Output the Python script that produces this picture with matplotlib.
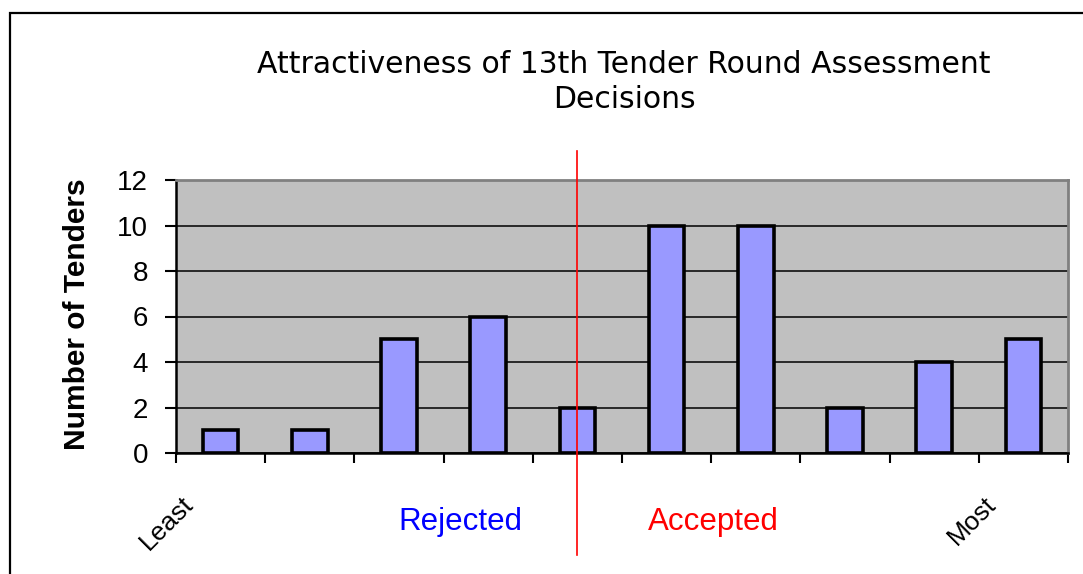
import matplotlib
matplotlib.use("Agg")
import matplotlib.pyplot as plt
from matplotlib.patches import Rectangle
from matplotlib.transforms import ScaledTranslation

# data
categories = list(range(10))
counts = [1, 1, 5, 6, 2, 10, 10, 2, 4, 5]
x_labels = ["Least", "", "", "", "", "", "", "", "", "Most"]
y_ticks = [0, 2, 4, 6, 8, 10, 12]
divider_at = 4  # red split between rejected and accepted
title = "Attractiveness of 13th Tender Round Assessment\nDecisions"

plt.rcParams["font.family"] = ["Liberation Sans", "DejaVu Sans"]


def main():
    fig = plt.figure(figsize=(10.83, 5.74), dpi=100)
    W, H = 1083, 574
    ax = fig.add_axes([176 / W, 1 - 453 / H, (1068 - 176) / W, 273 / H])

    # outer chart frame (only top/left visible in the reference)
    fig.add_artist(Rectangle((10 / W, -0.2), 1.5, 1 - 13 / H + 0.2,
                             transform=fig.transFigure, fill=False,
                             edgecolor="black", lw=1.6))

    ax.set_facecolor("#c0c0c0")
    ax.bar(categories, counts, width=0.4, color="#9999ff",
           edgecolor="black", linewidth=2.6, zorder=2)

    ax.set_xlim(-0.5, len(categories) - 0.5)
    ax.set_ylim(0, 12)
    ax.set_yticks(y_ticks)
    ax.yaxis.grid(True, color="black", lw=1.1)
    ax.set_axisbelow(True)

    for side in ["left", "bottom"]:
        ax.spines[side].set_color("black")
        ax.spines[side].set_linewidth(1.8)
    for side in ["top", "right"]:
        ax.spines[side].set_color("#808080")
        ax.spines[side].set_linewidth(2.0)

    ax.tick_params(axis="y", direction="out", length=8, width=1.5,
                   labelsize=20, pad=12)

    # ticks at category boundaries, labels at category centres
    ax.set_xticks([c - 0.5 for c in categories] + [len(categories) - 0.5])
    ax.set_xticklabels([])
    ax.tick_params(axis="x", which="major", direction="out", length=7,
                   width=1.5)
    ax.set_xticks(categories, minor=True)
    ax.set_xticklabels(x_labels, minor=True, rotation=45, ha="right",
                       va="center", rotation_mode="anchor", fontsize=19)
    ax.tick_params(axis="x", which="minor", length=0, pad=34)
    shift = ScaledTranslation(-0.31, 0, fig.dpi_scale_trans)
    for lab in ax.get_xticklabels(minor=True):
        lab.set_transform(lab.get_transform() + shift)

    ax.set_ylabel("Number of Tenders", fontsize=21.5, fontweight="bold")
    ax.yaxis.set_label_coords(-0.095, 0.51)

    ax.axvline(divider_at, ymin=-0.374, ymax=1.106, color="red", lw=1.2,
               clip_on=False, zorder=3)

    ax.text(0.319, -0.253, "Rejected", transform=ax.transAxes,
            color="#0000ff", fontsize=22.5, ha="center", va="center")
    ax.text(0.602, -0.253, "Accepted", transform=ax.transAxes,
            color="#ff0000", fontsize=22.5, ha="center", va="center")

    fig.text(624 / W, 1 - 50 / H, title, ha="center", va="top",
             fontsize=21.5, family="DejaVu Sans", linespacing=1.28)

    fig.savefig("out.png", dpi=100, facecolor="white")


main()
